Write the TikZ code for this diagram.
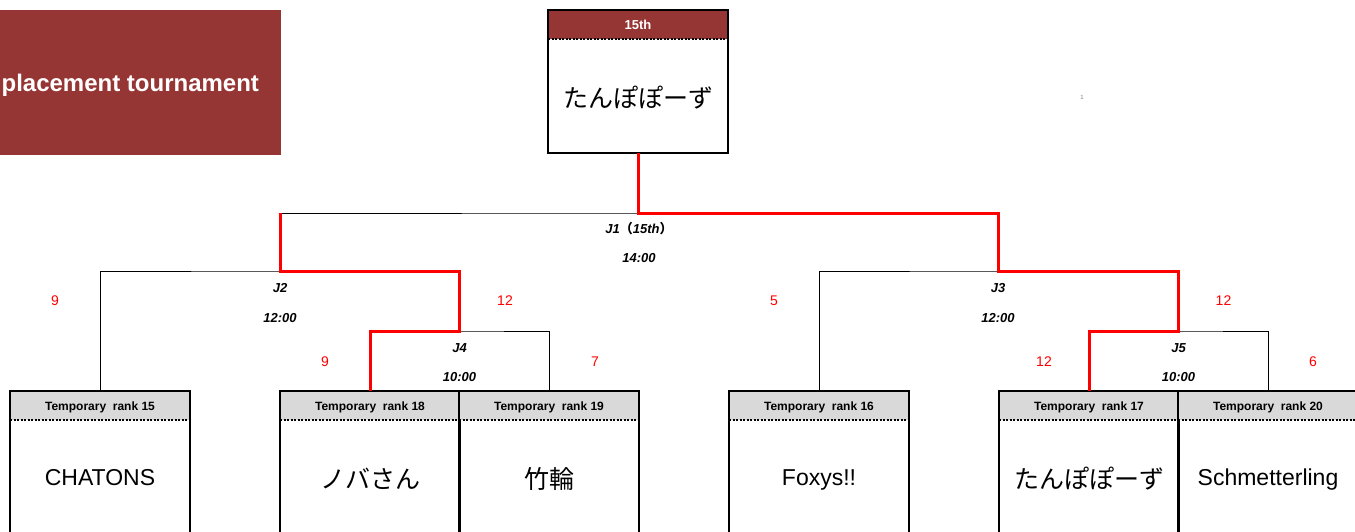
\documentclass[tikz,border=0pt]{standalone}
\usepackage{fontspec}
\setmainfont{Liberation Sans}
\newfontfamily\jpfont{Noto Sans CJK JP}
\usetikzlibrary{positioning,calc}
\definecolor{myred}{RGB}{150,54,52}
\definecolor{mygray}{RGB}{217,217,217}
\newcommand\jp[1]{\raisebox{-3pt}{\jpfont\fontsize{25}{30}\selectfont #1}}
\newcommand\teambox[5][mygray]{
\node[headb,fill=#1,anchor=north west] (#3h) at (#2) {#4};
\node[bodyb,below=0pt of #3h] (#3) {#5};
\draw[line width=2pt] (#3h.north west) rectangle (#3.south east);
\draw[sepline] (#3h.south west) -- (#3h.south east);
}
\begin{document}
\begin{tikzpicture}[x=1pt,y=-1pt,outer sep=0pt,
headb/.style={inner sep=0pt,minimum width=180,minimum height=29,
  text height=10pt,text depth=0pt,
  font={\bfseries\fontsize{12}{14}\selectfont}},
bodyb/.style={inner sep=0pt,minimum width=180,minimum height=114,
  text height=20pt,text depth=4pt,
  font={\fontsize{23}{28}\selectfont}},
sepline/.style={line width=1.5pt,dash pattern=on 2pt off 1.5pt},
bline/.style={line width=0.8pt},
wline/.style={red,line width=3pt},
jlab/.style={inner sep=0pt,font={\bfseries\itshape\fontsize{13}{15}\selectfont}},
score/.style={inner sep=0pt,text=red,font={\fontsize{14}{16}\selectfont}},
titleb/.style={fill=myred,inner sep=0pt,minimum width=281,minimum height=145},
]
\useasboundingbox (0,0) rectangle (1355,531);
\clip (0,0) rectangle (1355,531);
\node[titleb,anchor=north west,
  label={[inner sep=0pt,anchor=east,xshift=-22pt,yshift=-3pt,text=white,
  font={\bfseries\fontsize{24}{28}\selectfont}]east:placement tournament}] (TIT) at (0,10) {};
\teambox[myred]{548,10}{TOP}{\color{white}\fontsize{13}{15}\selectfont 15th}{\jp{たんぽぽーず}}
\teambox{10,391}{R15}{Temporary\ \ rank 15}{CHATONS}
\teambox{280,391}{R18}{Temporary\ \ rank 18}{\jp{ノバさん}}
\teambox{459,391}{R19}{Temporary\ \ rank 19}{\jp{竹輪}}
\teambox{729,391}{R16}{Temporary\ \ rank 16}{Foxys!!}
\teambox{999,391}{R17}{Temporary\ \ rank 17}{\jp{たんぽぽーず}}
\teambox{1178,391}{R20}{Temporary\ \ rank 20}{Schmetterling}
\node[inner sep=0pt,text=gray,font=\fontsize{6}{7}\selectfont] (one) at (1082,97) {1};
\coordinate (J1) at (639,213);
\coordinate (J2) at (280,271);
\coordinate (J3) at (998,271);
\coordinate (J4) at (459.5,331);
\coordinate (J5) at (1178.5,331);
\draw[bline] (J2) |- (J1) -| (J3);
\draw[bline] (R15h.north) |- (J2) -| (J4);
\draw[bline] (R18h.north) |- (J4) -| (R19h.north);
\draw[bline] (R16h.north) |- (J3) -| (J5);
\draw[bline] (R17h.north) |- (J5) -| (R20h.north);
\draw[wline] (R18h.north) |- (J4) |- (J2) -- (J2 |- J1);
\draw[wline] (TOP.south) |- (J1) -| (J3) -| (J5) -| (R17h.north);
\node[jlab] (J1a) at ($(J1)+(0,16)$) {J1{\jpfont （}15th{\jpfont ）}};
\node[jlab] (J1b) at ($(J1)+(0,45)$) {14:00};
\node[jlab] (J2a) at ($(J2)+(0,17)$) {J2};
\node[jlab] (J2b) at ($(J2)+(0,47)$) {12:00};
\node[jlab] (J3a) at ($(J3)+(0,17)$) {J3};
\node[jlab] (J3b) at ($(J3)+(0,47)$) {12:00};
\node[jlab] (J4a) at ($(J4)+(0,17)$) {J4};
\node[jlab] (J4b) at ($(J4)+(0,46)$) {10:00};
\node[jlab] (J5a) at ($(J5)+(0,17)$) {J5};
\node[jlab] (J5b) at ($(J5)+(0,46)$) {10:00};
\node[score] (S15) at ($(R15h.north |- J2)+(-45,30)$) {9};
\node[score] (S4) at ($(J4 |- J2)+(45.5,30)$) {12};
\node[score] (S18) at ($(R18h.north |- J4)+(-45,31)$) {9};
\node[score] (S19) at ($(R19h.north |- J4)+(46,31)$) {7};
\node[score] (S16) at ($(R16h.north |- J3)+(-45,30)$) {5};
\node[score] (S5) at ($(J5 |- J3)+(45,30)$) {12};
\node[score] (S17) at ($(R17h.north |- J5)+(-45,31)$) {12};
\node[score] (S20) at ($(R20h.north |- J5)+(45,31)$) {6};
\end{tikzpicture}
\end{document}
